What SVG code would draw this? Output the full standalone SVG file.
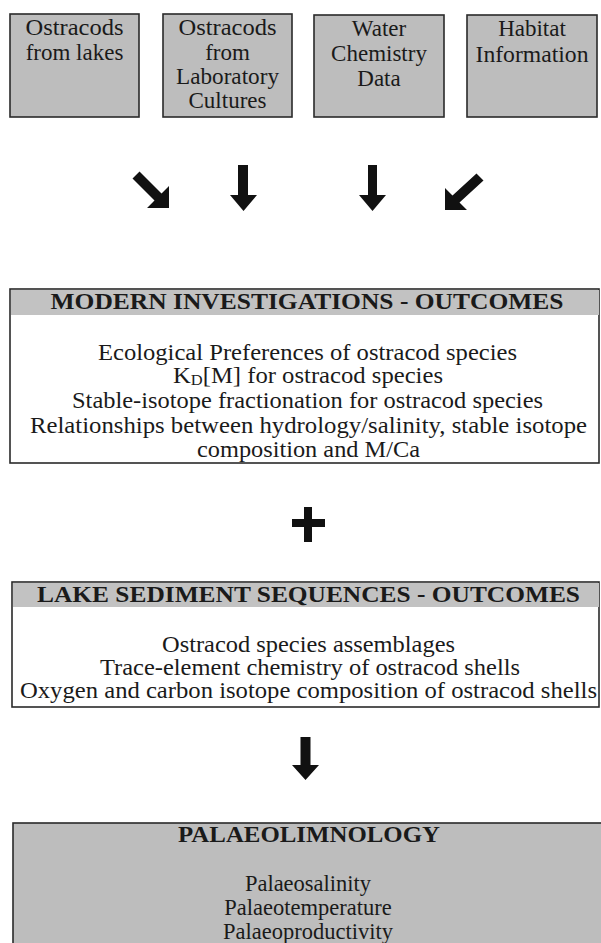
<svg xmlns="http://www.w3.org/2000/svg" width="601" height="943" viewBox="0 0 601 943">
<style>
.box{fill:#bdbdbd;stroke:#2a2a2a;stroke-width:1.6}
.wbox{fill:#ffffff;stroke:#2a2a2a;stroke-width:1.6}
.band{fill:#c2c2c2;stroke:none}
.t{font-family:"Liberation Serif","Times New Roman",serif;font-size:23px;fill:#1a1a1a;text-anchor:middle}
.b{font-family:"Liberation Serif","Times New Roman",serif;font-size:22.5px;fill:#1a1a1a;text-anchor:middle}
.h{font-family:"Liberation Serif","Times New Roman",serif;font-size:23px;font-weight:bold;fill:#1a1a1a;text-anchor:middle}
.arr{fill:#111111;stroke:none}
</style>
<rect width="601" height="943" fill="#ffffff"/>

<g id="ostracods-lakes">
<rect class="box" x="10" y="14" width="129" height="103"/>
<text class="t" x="74.5" y="35" textLength="98" lengthAdjust="spacingAndGlyphs">Ostracods</text>
<text class="t" x="74.5" y="60">from lakes</text>
</g>
<g id="ostracods-lab">
<rect class="box" x="163" y="14" width="129" height="103"/>
<text class="t" x="227.5" y="35" textLength="98" lengthAdjust="spacingAndGlyphs">Ostracods</text>
<text class="t" x="227.5" y="60">from</text>
<text class="t" x="227.5" y="84" textLength="103" lengthAdjust="spacingAndGlyphs">Laboratory</text>
<text class="t" x="227.5" y="108">Cultures</text>
</g>
<g id="water-chemistry">
<rect class="box" x="314" y="15" width="130" height="102"/>
<text class="t" x="379" y="36">Water</text>
<text class="t" x="379" y="61">Chemistry</text>
<text class="t" x="379" y="86">Data</text>
</g>
<g id="habitat">
<rect class="box" x="467" y="15" width="130" height="102"/>
<text class="t" x="532" y="36">Habitat</text>
<text class="t" x="532" y="62" textLength="113" lengthAdjust="spacingAndGlyphs">Information</text>
</g>

<g id="connectors">
<polygon class="arr" points="132.5,178.5 139.5,171.5 161.5,193.5 169,186 169,208 147,208 154.5,200.5"/>
<polygon class="arr" points="238,165 248,165 248,195 257,195 243.5,211 230,195 238,195"/>
<polygon class="arr" points="368,165 377,165 377,195 386,195 372.5,211 359,195 368,195"/>
<polygon class="arr" points="476.5,173.5 483.5,180.5 459.5,202.5 467,210 445,210 445,188 452.5,195.5"/>
<polygon class="arr" points="300.5,737 310.5,737 310.5,765 319,765 305.5,780 292,765 300.5,765"/>
</g>

<g id="modern-investigations">
<rect class="wbox" x="10" y="289" width="589" height="174"/>
<rect class="band" x="11" y="290" width="588" height="25"/>
<text class="h" x="307" y="309" textLength="513" lengthAdjust="spacingAndGlyphs">MODERN INVESTIGATIONS - OUTCOMES</text>
<text class="b" x="307.5" y="360" textLength="419" lengthAdjust="spacingAndGlyphs">Ecological Preferences of ostracod species</text>
<text class="b" x="308" y="383" textLength="270" lengthAdjust="spacingAndGlyphs">K<tspan font-size="15" dy="1.5">D</tspan><tspan dy="-1.5">[M] for ostracod species</tspan></text>
<text class="b" x="307.5" y="408" textLength="471" lengthAdjust="spacingAndGlyphs">Stable-isotope fractionation for ostracod species</text>
<text class="b" x="308.5" y="433" textLength="557" lengthAdjust="spacingAndGlyphs">Relationships between hydrology/salinity, stable isotope</text>
<text class="b" x="308.5" y="457" textLength="223" lengthAdjust="spacingAndGlyphs">composition and M/Ca</text>
</g>

<g id="plus">
<rect class="arr" x="292" y="519" width="33" height="8"/>
<rect class="arr" x="304" y="507" width="8" height="35"/>
</g>

<g id="lake-sediment">
<rect class="wbox" x="12" y="582" width="587" height="125"/>
<rect class="band" x="13" y="583" width="586" height="24"/>
<text class="h" x="308.5" y="602" textLength="543" lengthAdjust="spacingAndGlyphs">LAKE SEDIMENT SEQUENCES - OUTCOMES</text>
<text class="b" x="308.5" y="652" textLength="293" lengthAdjust="spacingAndGlyphs">Ostracod species assemblages</text>
<text class="b" x="310" y="675" textLength="420" lengthAdjust="spacingAndGlyphs">Trace-element chemistry of ostracod shells</text>
<text class="b" x="308.5" y="698" textLength="577" lengthAdjust="spacingAndGlyphs">Oxygen and carbon isotope composition of ostracod shells</text>
</g>

<g id="palaeolimnology">
<rect class="box" x="13" y="823" width="600" height="140"/>
<text class="h" x="309" y="842" textLength="262" lengthAdjust="spacingAndGlyphs">PALAEOLIMNOLOGY</text>
<text class="b" x="308" y="891">Palaeosalinity</text>
<text class="b" x="308" y="915">Palaeotemperature</text>
<text class="b" x="308" y="939">Palaeoproductivity</text>
</g>
</svg>
